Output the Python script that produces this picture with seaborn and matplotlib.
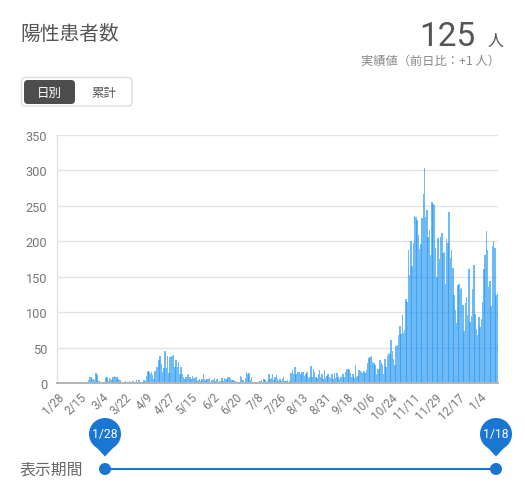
import numpy as np
import pandas as pd
import matplotlib.pyplot as plt
from matplotlib.patches import Circle, FancyBboxPatch, Polygon
import seaborn as sns

# daily counts, one list per 18 day tick interval
jan28 = [1,0,0,0,1,0,0,0,0,0,0,0,0,1,0,0,0,0]
feb15 = [0,0,0,1,0,1,2,4,9,9,5,5,4,14,11,3,3,2]
mar04 = [2,1,1,7,8,3,7,6,4,8,10,9,8,6,4,4,1,1]
mar22 = [2,3,1,1,3,2,1,3,1,2,4,1,4,1,1,2,4,3]
apr09 = [10,17,15,12,15,11,5,17,22,23,33,38,27,15,21,45,21,38]
apr27 = [14,36,38,38,40,23,32,23,30,13,23,13,8,6,9,11,12,8]
may15 = [6,10,7,7,8,3,4,5,3,6,13,6,4,5,5,7,2,4]
jun02 = [4,7,3,5,2,3,3,7,3,7,5,6,9,8,7,4,4,3]
jun20 = [3,2,2,1,10,8,4,2,7,16,12,14,4,9,1,0,0,0]
jul08 = [0,0,3,4,2,6,4,2,3,13,5,7,12,4,9,11,5,3]
jul26 = [5,3,6,9,3,3,4,2,3,14,18,12,22,12,16,15,16,13]
aug13 = [15,16,10,12,16,7,9,24,8,20,15,9,7,12,18,8,12,6]
aug31 = [18,7,10,13,8,7,13,5,14,7,14,8,5,8,9,12,9,15]
sep18 = [20,20,18,14,9,12,7,25,9,10,19,17,15,14,17,14,18,28]
oct06 = [35,37,38,30,28,25,12,20,20,33,28,26,12,34,22,38,42,41]
oct24 = [60,45,34,26,52,53,68,80,69,96,70,75,118,115,187,153,200,165]
nov11 = [197,235,234,230,209,189,196,233,267,303,234,244,206,216,181,255,253,251]
nov29 = [191,150,205,175,206,211,183,185,140,203,197,241,176,188,163,124,103,85]
dec17 = [138,140,132,134,110,74,113,122,96,161,86,94,133,166,97,76,68,93]
jan04 = [79,90,115,161,181,214,188,135,144,109,194,201,191,124,125]

tick_labels = ["1/28","2/15","3/4","3/22","4/9","4/27","5/15","6/2","6/20","7/8",
               "7/26","8/13","8/31","9/18","10/6","10/24","11/11","11/29","12/17","1/4"]
y_ticks = [0, 50, 100, 150, 200, 250, 300, 350]

values = (jan28 + feb15 + mar04 + mar22 + apr09 + apr27 + may15 + jun02 + jun20 + jul08
          + jul26 + aug13 + aug31 + sep18 + oct06 + oct24 + nov11 + nov29 + dec17 + jan04)
df = pd.DataFrame({"day": np.arange(len(values)), "count": values})

sns.set_style("white")
plt.rcParams["font.family"] = ["Noto Sans CJK JP", "DejaVu Sans"]

W, H = 525, 485
fig = plt.figure(figsize=(W / 100, H / 100), dpi=100)

# the page furniture is laid out in pixels on a background axes
bg = fig.add_axes([0, 0, 1, 1])
bg.set_xlim(0, W)
bg.set_ylim(H, 0)
bg.axis("off")

ax = fig.add_axes([57 / W, 1 - 384 / H, 441 / W, 248 / H])
ax.patch.set_alpha(0)
# bars slightly wider than the step, the pixel snapping then gives the darker stripes
sns.barplot(data=df, x="day", y="count", color="#2196F3", saturation=1, alpha=0.66,
            width=1.2, ax=ax, zorder=3)
for p in ax.patches:
    p.set_linewidth(0)
    p.set_snap(True)
ax.set_xlim(-0.5, len(values) - 0.5)
ax.set_ylim(0, 350)
ax.set_xlabel("")
ax.set_ylabel("")
ax.set_yticks(y_ticks)
ax.set_xticks(np.arange(len(tick_labels)) * 18)
ax.set_xticklabels(tick_labels, rotation=45, ha="right", rotation_mode="anchor")
ax.tick_params(axis="x", labelsize=8.4, labelcolor="#777777", length=0, pad=5)
ax.tick_params(axis="y", labelsize=9.2, labelcolor="#777777", length=0, pad=7)
for lab in ax.get_xticklabels() + ax.get_yticklabels():
    lab.set_family(["Roboto", "DejaVu Sans"])
ax.grid(axis="y", color="#e2e2e2", linewidth=1, zorder=1)
ax.set_axisbelow(True)
sns.despine(ax=ax, top=True, right=True)
ax.spines["left"].set_color("#e2e2e2")
ax.spines["left"].set_linewidth(1)
ax.spines["bottom"].set_color("#b4b4b4")
ax.spines["bottom"].set_linewidth(1.4)
ax.spines["bottom"].set_zorder(5)

# header
bg.text(20, 35, "陽性患者数", fontsize=14.2, color="#555555", va="center", ha="left")
bg.text(475, 46.5, "125", fontsize=24, color="#555555", va="baseline", ha="right",
        family=["Roboto", "DejaVu Sans"])
bg.text(503, 46, "人", fontsize=11.5, color="#555555", va="baseline", ha="right")
bg.text(500, 61, "実績値（前日比：+1 人）", fontsize=8.8, color="#888888", va="center", ha="right")

# toggle
bg.add_patch(FancyBboxPatch((21.5, 78.5), 110.5, 28.5, boxstyle="round,pad=0,rounding_size=4",
                            facecolor="white", edgecolor="#dddddd", linewidth=1))
bg.add_patch(FancyBboxPatch((24, 81), 51, 24, boxstyle="round,pad=0,rounding_size=4",
                            facecolor="#4d4d4d", edgecolor="none"))
bg.text(49.5, 93, "日別", fontsize=9, color="white", va="center", ha="center")
bg.text(104, 93, "累計", fontsize=9, color="#555555", va="center", ha="center")

# period slider
blue = "#1976D2"
bg.text(20, 470, "表示期間", fontsize=11.4, color="#666666", va="center", ha="left")
bg.plot([105, 496], [470, 470], color=blue, linewidth=1.5, solid_capstyle="butt")
for cx, lab in zip([105, 496], ["1/28", "1/18"]):
    bg.add_patch(Circle((cx, 470), 6, facecolor=blue, edgecolor="none"))
    bg.add_patch(Circle((cx, 435), 16, facecolor=blue, edgecolor="none"))
    bg.add_patch(Polygon([(cx - 14.5, 442), (cx, 457.5), (cx + 14.5, 442)], facecolor=blue, edgecolor="none"))
    bg.text(cx, 434.5, lab, fontsize=8.8, color="white", va="center", ha="center",
            family=["Roboto", "DejaVu Sans"])

fig.savefig("out.png", dpi=100)
